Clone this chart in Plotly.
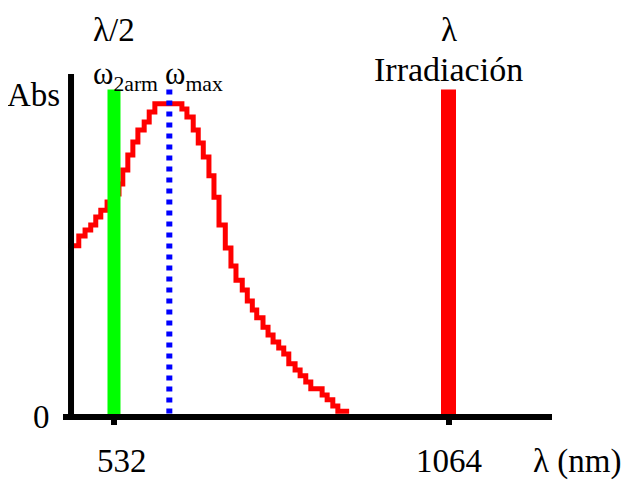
import plotly.graph_objects as go

# Absorption band (stepped red curve): wavelength (nm) and relative absorbance
wavelength_nm = [459, 476, 486, 495, 503, 511, 521, 530, 540, 546,
                 554, 562, 570, 580, 588, 597, 640, 648, 658, 666,
                 674, 683, 691, 699, 709, 718, 726, 736, 744, 752,
                 759, 769, 777, 785, 794, 802, 810, 820, 828, 837,
                 845, 863, 871, 880, 888, 906]
absorbance = [0.499, 0.528, 0.545, 0.560, 0.583, 0.603, 0.627, 0.650, 0.679, 0.720,
              0.764, 0.802, 0.837, 0.860, 0.889, 0.913, 0.898, 0.875, 0.837, 0.799,
              0.758, 0.703, 0.641, 0.560, 0.493, 0.440, 0.399, 0.370, 0.338, 0.312,
              0.289, 0.262, 0.239, 0.219, 0.201, 0.184, 0.155, 0.137, 0.120, 0.102,
              0.082, 0.064, 0.050, 0.032, 0.017, 0.017]

# Spectral lines
second_harmonic_nm = 532
irradiation_nm = 1064
omega_max_nm = 620
line_height = 0.955

tick_values = [532, 1064]
tick_labels = ["532", "1064"]

FONT = "Liberation Serif"
FS = 33

fig = go.Figure()

fig.add_trace(go.Scatter(
    x=wavelength_nm, y=absorbance, mode="lines",
    line=dict(color="#ff0000", width=5, shape="hv"),
    hoverinfo="skip", showlegend=False))

fig.add_trace(go.Scatter(
    x=[second_harmonic_nm, second_harmonic_nm], y=[0, line_height], mode="lines",
    line=dict(color="#00ff00", width=13), showlegend=False))

fig.add_trace(go.Scatter(
    x=[omega_max_nm, omega_max_nm], y=[line_height, 0], mode="lines",
    line=dict(color="#0000ff", width=6, dash="5px,6px"), showlegend=False))

fig.add_trace(go.Scatter(
    x=[irradiation_nm, irradiation_nm], y=[0, line_height], mode="lines",
    line=dict(color="#ff0000", width=15), showlegend=False))

# axis lines
fig.add_shape(type="line", xref="paper", yref="paper", x0=0, x1=1, y0=0, y1=0,
              line=dict(color="black", width=6), layer="above")
fig.add_shape(type="line", xref="paper", yref="paper", x0=0.0164, x1=0.0164, y0=-0.009, y1=1,
              line=dict(color="black", width=6), layer="above")

tf = dict(family=FONT, size=FS, color="black")
ann = []
ann.append(dict(text="λ/2", x=second_harmonic_nm, xref="x", y=1.128, yref="paper",
                xanchor="center", yanchor="middle", showarrow=False, font=tf))
ann.append(dict(text="λ", x=irradiation_nm, xref="x", y=1.128, yref="paper",
                xanchor="center", yanchor="middle", showarrow=False, font=tf))
ann.append(dict(text="Irradiación", x=irradiation_nm, xref="x", y=1.012, yref="paper",
                xanchor="center", yanchor="middle", showarrow=False,
                font=dict(family=FONT, size=34, color="black")))
ann.append(dict(text="ω<sub>2arm</sub>", x=0.0573, xref="paper", y=0.993, yref="paper",
                xanchor="left", yanchor="middle", showarrow=False,
                font=dict(family=FONT, size=31, color="black")))
ann.append(dict(text="ω<sub>max</sub>", x=0.2045, xref="paper", y=0.993, yref="paper",
                xanchor="left", yanchor="middle", showarrow=False,
                font=dict(family=FONT, size=31, color="black")))
ann.append(dict(text="Abs", x=-0.002, xref="paper", y=0.939, yref="paper",
                xanchor="right", yanchor="middle", showarrow=False, font=tf))
ann.append(dict(text="0", x=-0.043, xref="paper", y=0.0, yref="paper",
                xanchor="center", yanchor="middle", showarrow=False, font=tf))
for v, t, sh in zip(tick_values, tick_labels, [8, 0]):
    ann.append(dict(text=t, x=v, xref="x", xshift=sh, y=-0.128, yref="paper",
                    xanchor="center", yanchor="middle", showarrow=False, font=tf))
ann.append(dict(text="λ (nm)", x=1.051, xref="paper", y=-0.13, yref="paper",
                xanchor="center", yanchor="middle", showarrow=False, font=tf))

# page body has an 8px margin, so the figure is sized/margined to compensate
fig.update_layout(
    width=622, height=476,
    margin=dict(l=55, r=78, t=66, b=67),
    paper_bgcolor="white", plot_bgcolor="white",
    showlegend=False,
    annotations=ann,
    xaxis=dict(range=[450.9, 1228.6], showgrid=False, zeroline=False, showline=False,
               tickvals=tick_values, ticks="outside", ticklen=7, tickwidth=6,
               tickcolor="black", showticklabels=False),
    yaxis=dict(range=[0, 1], visible=False),
)

fig.write_html("out.html")
